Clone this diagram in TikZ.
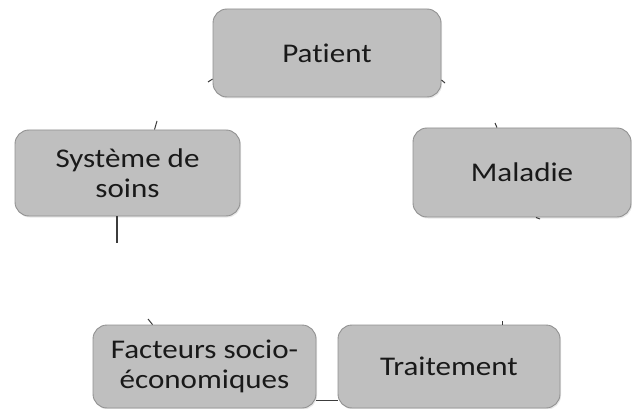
\documentclass[tikz,border=0pt]{standalone}
\usepackage{fontspec}
\setmainfont{Carlito}[FakeStretch=1.15, Ligatures={NoCommon}]
\usetikzlibrary{shadows}
\definecolor{boxfill}{RGB}{191,191,191}
\definecolor{boxline}{RGB}{145,145,145}
\definecolor{txt}{RGB}{25,25,25}
\definecolor{conn}{RGB}{60,60,60}
\begin{document}
\begin{tikzpicture}[x=1pt,y=-1pt,
  box/.style={draw=boxline, line width=0.9pt, fill=boxfill, rounded corners=14pt,
    inner sep=0pt, align=center, text=txt,
    font=\fontsize{27}{30}\selectfont,
    drop shadow={opacity=0.18, shadow xshift=1pt, shadow yshift=-1.5pt}},
  stub/.style={draw=conn, line width=1pt},
  link/.style={draw=conn, line width=1.2pt}]
\useasboundingbox (0,0) rectangle (632,409);
\fill[white] (0,0) rectangle (632,409);
\node[box, minimum width=228pt, minimum height=88pt] (pat) at (327,53) {Patient};
\node[box, minimum width=225pt, minimum height=86pt] (sys) at (127.5,173) {Système de\\soins};
\node[box, minimum width=218pt, minimum height=89pt] (mal) at (522,172.5) {Maladie};
\node[box, minimum width=223pt, minimum height=83pt] (fac) at (204.5,366.5) {Facteurs socio-\\économiques};
\node[box, minimum width=222pt, minimum height=83pt] (trt) at (449,366.5) {Traitement};
% connector remnants
\coordinate (e1) at (208,82);
\coordinate (e2) at (445,83);
\coordinate (e3) at (157,121);
\coordinate (e4) at (495,123);
\coordinate (e5) at (540,219);
\coordinate (e6) at (148,319);
\coordinate (e7) at (502,321);
\coordinate (e8) at (117,243);
\draw[stub] ([yshift=-26pt]pat.west) -- (e1);
\draw[stub] ([yshift=-27pt]pat.east) -- (e2);
\draw[stub] ([xshift=27pt]sys.north) -- (e3);
\draw[stub] ([xshift=-25pt]mal.north) -- (e4);
\draw[stub] ([xshift=14pt]mal.south) -- (e5);
\draw[stub] ([xshift=-52pt]fac.north) -- (e6);
\draw[stub] ([xshift=53pt]trt.north) -- (e7);
\draw[link] ([xshift=-10.5pt]sys.south) -- (e8);
\draw[link] ([yshift=8pt]fac.south east) -- ([yshift=8pt]trt.south west);
\end{tikzpicture}
\end{document}
